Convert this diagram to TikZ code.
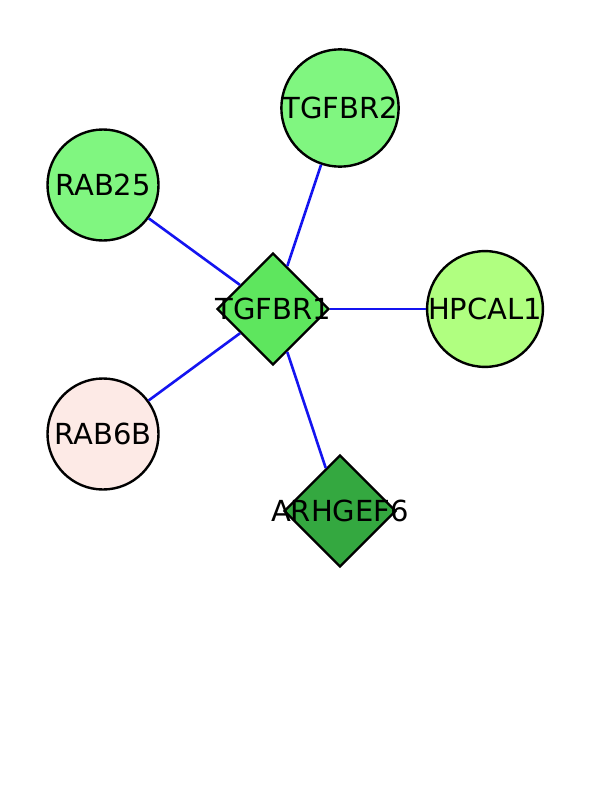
\documentclass[tikz,border=0pt]{standalone}
\usepackage{fontspec}
\setmainfont{DejaVu Sans}
\usepackage{tikz}
\usetikzlibrary{shapes.geometric}

\definecolor{litegreen}{RGB}{128,246,128}
\definecolor{midgreen}{RGB}{94,230,94}
\definecolor{limegreen}{RGB}{176,255,128}
\definecolor{darkgreen}{RGB}{52,168,64}
\definecolor{palerose}{RGB}{253,234,230}
\definecolor{edgeblue}{RGB}{20,20,240}

\tikzset{
  gene/.style={circle,draw=black,line width=2.4pt,minimum size=111pt,inner sep=0pt},
  genediam/.style={diamond,draw=black,line width=2.4pt,minimum width=112pt,minimum height=112pt,inner sep=0pt},
  glabel/.style={font=\fontsize{29}{29}\selectfont},
  link/.style={edgeblue,line width=2.6pt}
}

\begin{document}
\begin{tikzpicture}[x=1pt,y=-1pt]
  \useasboundingbox[fill=white] (0,0) rectangle (612,792);
  % genes
  \node[gene,fill=litegreen,glabel] (tgfbr2) at (340,108) {TGFBR2};
  \node[gene,fill=litegreen,glabel] (rab25) at (103,185) {RAB25};
  \node[gene,fill=limegreen,glabel] (hpcal1) at (485,309) {HPCAL1};
  \node[gene,fill=palerose,glabel] (rab6b) at (103,434) {RAB6B};
  \node[genediam,fill=midgreen,label={[glabel]center:TGFBR1}] (tgfbr1) at (273,309) {};
  \node[genediam,fill=darkgreen,label={[glabel]center:ARHGEF6}] (arhgef6) at (340,511) {};
  % interactions
  \foreach \g in {tgfbr2,rab25,hpcal1,rab6b,arhgef6}{\draw[link] (tgfbr1)--(\g);}
\end{tikzpicture}
\end{document}
